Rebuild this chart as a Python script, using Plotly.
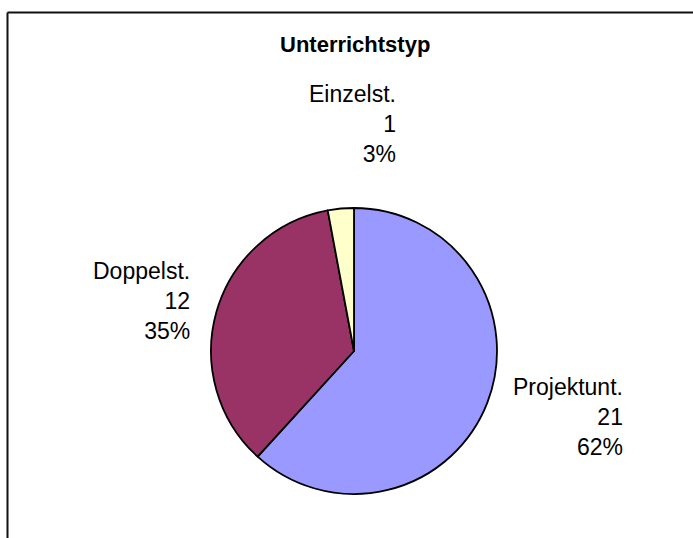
import math
import plotly.graph_objects as go

# ---- data ----
categories = ["Projektunt.", "Doppelst.", "Einzelst."]
values = [21, 12, 1]
colors = ["#9999FF", "#993366", "#FFFFCC"]
title_text = "Unterrichtstyp"

W, H = 693, 538
FONT = "Liberation Sans, Arial, sans-serif"

# pie geometry (pixels)
cx, cy, r = 354, 351, 143
dom_x = [(cx - r) / W, (cx + r) / W]
dom_y = [(H - cy - r) / H, (H - cy + r) / H]

fig = go.Figure()
fig.add_trace(go.Pie(
    labels=categories,
    values=values,
    sort=False,
    direction="clockwise",
    rotation=0,
    textinfo="none",
    hoverinfo="label+value+percent",
    marker=dict(colors=colors, line=dict(color="#000000", width=1.8)),
    domain=dict(x=dom_x, y=dom_y),
    showlegend=False,
))

# outside labels, positioned from each slice's mid angle
total = sum(values)
cum = 0
annotations = []
Rx, Ry = 1.18 * r, 1.28 * r
for lab, v in zip(categories, values):
    mid = (cum + v / 2) / total * 2 * math.pi
    cum += v
    s, c = math.sin(mid), math.cos(mid)
    px = cx + s * Rx
    py = cy - c * Ry
    pct = round(100 * v / total)
    if s > 0.3:
        xa, ya = "left", "middle"
    elif s < -0.3:
        xa, ya = "right", "middle"
    else:
        # labels near the top/bottom sit almost centred over the pie
        px = cx + s * abs(s) * Rx
        xa = "center"
        ya = "bottom" if c > 0 else "top"
    annotations.append(dict(
        x=px / W, y=1 - py / H, xref="paper", yref="paper",
        xanchor=xa, yanchor=ya, align="right", showarrow=False,
        text=f"{lab}<br>{v}<br>{pct}%",
        font=dict(family=FONT, size=23, color="#000000"),
    ))

annotations.append(dict(
    x=355 / W, y=1 - 45 / H, xref="paper", yref="paper",
    xanchor="center", yanchor="middle", showarrow=False,
    text=f"<b>{title_text}</b>",
    font=dict(family=FONT, size=22, color="#000000"),
))

# chart-area frame (top and left edges visible)
fx, fy = 7.5 / W, 1 - 12.5 / H
fig.add_shape(type="line", xref="paper", yref="paper",
              x0=fx, y0=-0.05, x1=fx, y1=fy, line=dict(color="#111111", width=2))
fig.add_shape(type="line", xref="paper", yref="paper",
              x0=fx, y0=fy, x1=1.05, y1=fy, line=dict(color="#111111", width=2))

fig.update_layout(
    width=W, height=H,
    margin=dict(l=0, r=0, t=0, b=0),
    paper_bgcolor="#FFFFFF",
    plot_bgcolor="#FFFFFF",
    annotations=annotations,
    font=dict(family=FONT),
)

fig.write_html("out.html", config={"displayModeBar": False},
               post_script="document.body.style.margin='0';")
